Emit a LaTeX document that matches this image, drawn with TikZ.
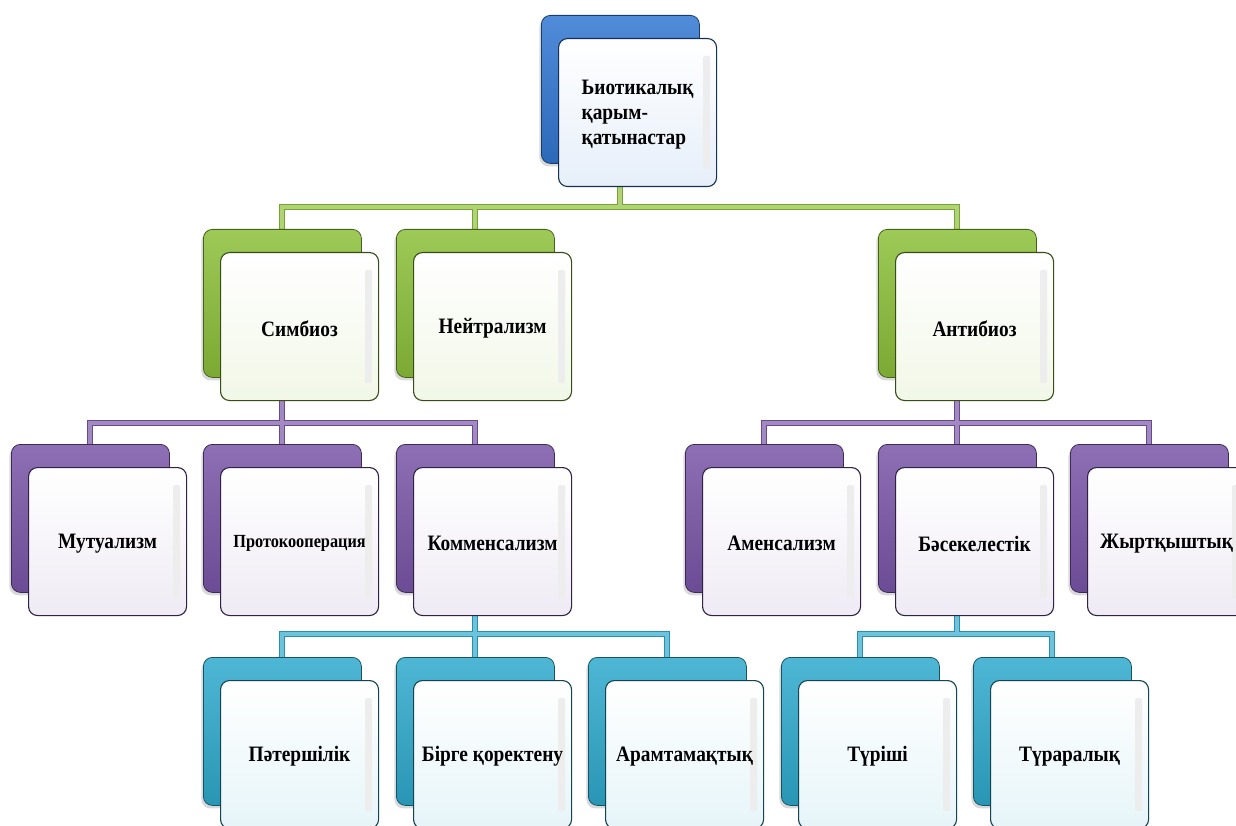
\documentclass[tikz,border=0pt]{standalone}
\usepackage{fontspec}
\setmainfont{Liberation Serif}[FakeStretch=0.88]
\usetikzlibrary{shadows}
\definecolor{kblue}{HTML}{3277D2}
\definecolor{kgreen}{HTML}{8CC03A}
\definecolor{kpurple}{HTML}{7A56A8}
\definecolor{kcyan}{HTML}{2FAACD}
\pgfdeclarelayer{bg}
\pgfsetlayers{bg,main}
\tikzset{
  backbox/.style={draw=#1!50!black, line width=0.8pt, top color=#1!85!white, bottom color=#1!88!black,
    rounded corners=9pt, minimum width=158pt, minimum height=148pt, anchor=north west, inner sep=0pt,
    drop shadow={shadow xshift=-2pt, shadow yshift=-3pt, opacity=0.3}},
  frontbox/.style={draw=#1!40!black, line width=1.1pt, top color=white, bottom color=#1!12!white,
    rounded corners=9pt, minimum width=158pt, minimum height=148pt, anchor=north west, inner sep=0pt},
  lbl/.style={font=\fontsize{22}{25}\selectfont\bfseries, align=left, inner sep=0pt},
  conn/.style={line width=1pt, draw=#1!85!black, double=#1!70!white, double distance=4pt},
}
\newcommand\kbox[5]{%
  \node[backbox=#4] (#1b) at (#2-17,#3-23) {};
  \node[frontbox=#4] (#1) at (#2,#3) {};
  \fill[black!7, rounded corners=2pt] ([xshift=-14pt,yshift=-18pt]#1.north east) rectangle ([xshift=-7pt,yshift=18pt]#1.south east);
  \node[lbl] (#1t) at ([yshift=-2pt]#1.center) {#5};
}
\begin{document}
\begin{tikzpicture}[x=1pt,y=-1pt]
\useasboundingbox (0,0) rectangle (1236,826);
\clip (0,0) rectangle (1236,826);
% top
\kbox{top}{558}{38}{kblue}{Ьиотикалық\\қарым-\\қатынастар}
% green row
\kbox{sim}{220}{252}{kgreen}{Симбиоз}
\kbox{neu}{413}{252}{kgreen}{Нейтрализм}
\kbox{ant}{895}{252}{kgreen}{Антибиоз}
% purple row
\kbox{mut}{28}{467}{kpurple}{Мутуализм}
\kbox{pro}{220}{467}{kpurple}{\fontsize{18.5}{20}\selectfont Протокооперация}
\kbox{kom}{413}{467}{kpurple}{Комменсализм}
\kbox{ame}{702}{467}{kpurple}{Аменсализм}
\kbox{bas}{895}{467}{kpurple}{Бәсекелестік}
\kbox{zhy}{1087}{467}{kpurple}{Жыртқыштық}
% cyan row
\kbox{pat}{220}{680}{kcyan}{Пәтершілік}
\kbox{bir}{413}{680}{kcyan}{Бірге қоректену}
\kbox{ara}{605}{680}{kcyan}{Арамтамақтық}
\kbox{tur}{798}{680}{kcyan}{Түріші}
\kbox{tar}{990}{680}{kcyan}{Түраралық}
% bus lines
\coordinate (gbus) at (0,207);
\coordinate (pbus) at (0,423);
\coordinate (cbus) at (0,634);
\begin{pgfonlayer}{bg}
\draw[conn=kgreen] (topb.center) -- (topb.center |- gbus)
  (simb.north) -- (simb.north |- gbus) -- (antb.north |- gbus) -- (antb.north)
  (neub.north) -- (neub.north |- gbus);
\draw[conn=kpurple] (simb.center) -- (simb.center |- pbus)
  (mutb.north) -- (mutb.north |- pbus) -- (komb.north |- pbus) -- (komb.north)
  (prob.north) -- (prob.north |- pbus);
\draw[conn=kpurple] (antb.center) -- (antb.center |- pbus)
  (ameb.north) -- (ameb.north |- pbus) -- (zhyb.north |- pbus) -- (zhyb.north)
  (basb.north) -- (basb.north |- pbus);
\draw[conn=kcyan] (komb.center) -- (komb.center |- cbus)
  (patb.north) -- (patb.north |- cbus) -- (arab.north |- cbus) -- (arab.north)
  (birb.north) -- (birb.north |- cbus);
\draw[conn=kcyan] (basb.center) -- (basb.center |- cbus)
  (turb.north) -- (turb.north |- cbus) -- (tarb.north |- cbus) -- (tarb.north);
\end{pgfonlayer}
\end{tikzpicture}
\end{document}
